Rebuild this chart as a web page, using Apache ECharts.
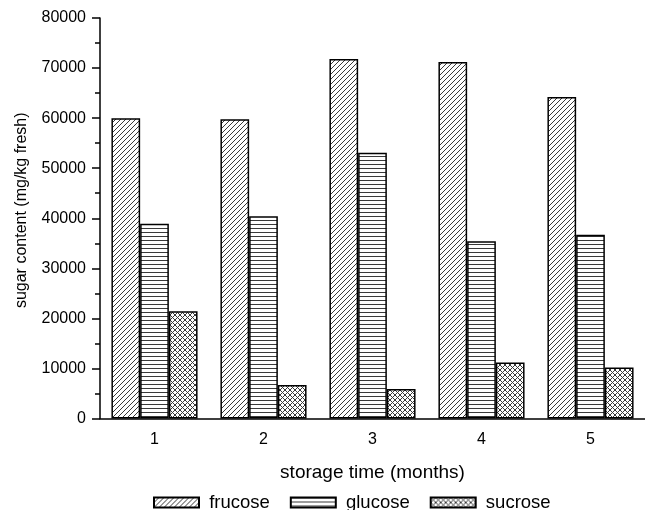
<!DOCTYPE html>
<html>
<head>
<meta charset="utf-8">
<script src="https://cdn.jsdelivr.net/npm/echarts@6/dist/echarts.min.js"></script>
<style>
html,body{margin:0;padding:0;background:#fff;}
#chart{width:645px;height:510px;}
</style>
</head>
<body>
<div id="chart"></div>
<script>
var categories = ['1', '2', '3', '4', '5'];
var frucose = [60000, 59800, 71800, 71200, 64200];
var glucose = [38900, 40400, 53100, 35400, 36700];
var sucrose = [21400, 6700, 5900, 11200, 10200];
var seriesNames = ['frucose', 'glucose', 'sucrose'];
var yTicks = [0, 10000, 20000, 30000, 40000, 50000, 60000, 70000, 80000];

function makePattern(kind) {
  var s = kind === 'h' ? 4 : 5;
  var c = document.createElement('canvas');
  c.width = s; c.height = s;
  var g = c.getContext('2d');
  g.fillStyle = '#fff';
  g.fillRect(0, 0, s, s);
  g.strokeStyle = '#3a3a3a';
  g.lineWidth = 1;
  function diag(up) {
    g.beginPath();
    if (up) {
      g.moveTo(-1, s + 1); g.lineTo(s + 1, -1);
      g.moveTo(-1, 1); g.lineTo(1, -1);
      g.moveTo(s - 1, s + 1); g.lineTo(s + 1, s - 1);
    } else {
      g.moveTo(-1, -1); g.lineTo(s + 1, s + 1);
      g.moveTo(-1, s - 1); g.lineTo(1, s + 1);
      g.moveTo(s - 1, -1); g.lineTo(s + 1, 1);
    }
    g.stroke();
  }
  if (kind === 'd') {
    diag(true);
  } else if (kind === 'h') {
    g.beginPath();
    g.moveTo(0, 0.5); g.lineTo(s, 0.5);
    g.stroke();
  } else {
    diag(true); diag(false);
  }
  return {image: c, repeat: 'repeat'};
}

var patterns = [makePattern('d'), makePattern('h'), makePattern('x')];
var dataSets = [frucose, glucose, sucrose];

var chart = echarts.init(document.getElementById('chart'), null, {renderer: 'canvas'});
var font = '"Liberation Sans", Arial, sans-serif';
var option = {
  animation: false,
  backgroundColor: '#fff',
  textStyle: {fontFamily: font, color: '#000'},
  grid: {left: 100, top: 18, width: 550, height: 400.5, containLabel: false},
  legend: {
    data: seriesNames,
    left: 148,
    top: 488,
    itemWidth: 45,
    itemHeight: 10,
    itemGap: 20,
    formatter: function (n) { return ' ' + n; },
    textStyle: {fontFamily: font, fontSize: 18.5, color: '#000'},
    icon: 'rect'
  },
  xAxis: [{
    type: 'category',
    data: categories,
    position: 'bottom',
    name: 'storage time (months)',
    nameLocation: 'middle',
    nameGap: 45,
    nameTextStyle: {fontFamily: font, fontSize: 19, color: '#000'},
    axisLine: {lineStyle: {color: '#000', width: 1.5}},
    axisTick: {alignWithLabel: true, length: 7, inside: false, lineStyle: {color: '#000', width: 1.5}},
    axisLabel: {fontFamily: font, fontSize: 16, color: '#000', margin: 13},
    splitLine: {show: false}
  }, {
    type: 'category',
    data: categories,
    position: 'bottom',
    axisLine: {show: false},
    axisTick: {length: 4, lineStyle: {color: '#000', width: 1.5}},
    axisLabel: {show: false},
    splitLine: {show: false}
  }],
  yAxis: {
    type: 'value',
    min: yTicks[0],
    max: yTicks[yTicks.length - 1],
    interval: 10000,
    name: 'sugar content (mg/kg fresh)',
    nameLocation: 'middle',
    nameGap: 70,
    nameTextStyle: {fontFamily: font, fontSize: 16, color: '#000', padding: [0, 0, 0, 16]},
    axisLine: {show: true, lineStyle: {color: '#000', width: 1.5}},
    axisTick: {show: true, length: 8, lineStyle: {color: '#000', width: 1.5}},
    minorTick: {show: true, splitNumber: 2, length: 5, lineStyle: {color: '#000', width: 1.5}},
    axisLabel: {fontFamily: font, fontSize: 16, color: '#000', margin: 14, formatter: function (v) { return String(v); }},
    splitLine: {show: false}
  },
  series: seriesNames.map(function (n, i) {
    return {
      name: n,
      type: 'bar',
      xAxisIndex: 0,
      data: dataSets[i],
      barGap: '0%',
      barCategoryGap: '21%',
      itemStyle: {color: patterns[i], borderColor: '#000', borderWidth: 1.5}
    };
  })
};
chart.setOption(option);
</script>
</body>
</html>
